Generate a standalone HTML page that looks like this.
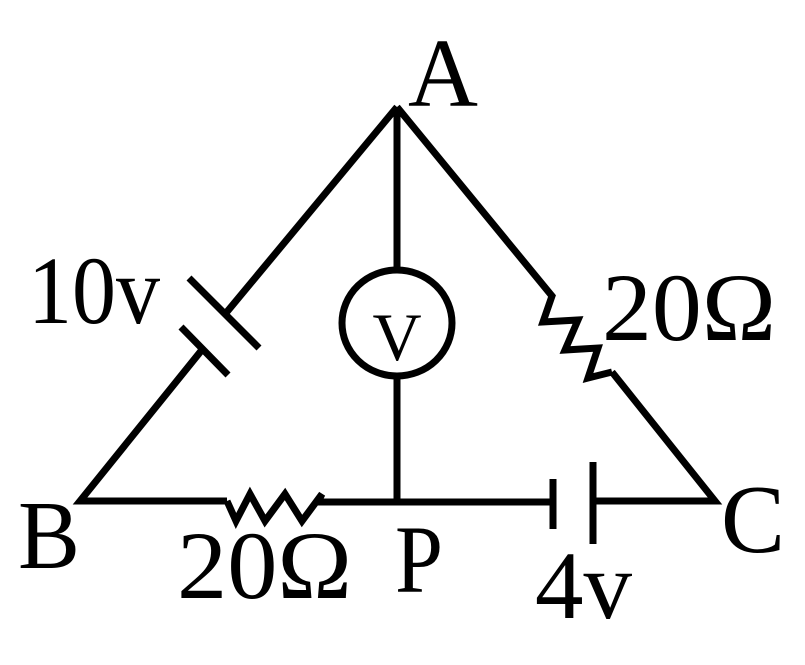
<!DOCTYPE html>
<html><head><meta charset="utf-8">
<style>html,body{margin:0;padding:0;background:#fff;}svg{display:block;}</style>
</head><body>
<svg width="805" height="665" viewBox="0 0 805 665" xmlns="http://www.w3.org/2000/svg">
<g fill="none" stroke="#000" stroke-width="7" stroke-linejoin="miter" stroke-linecap="butt">
  <polyline points="397,107 226,313"/>
  <line x1="189" y1="278" x2="259" y2="348"/>
  <line x1="181" y1="327" x2="228" y2="375"/>
  <polyline points="201,351 80,501 227,501"/>
  <polyline points="227,501 236,521 250,494 265,521 285,494 302,521 322,494 318,502 553,502"/>
  <line x1="553" y1="479" x2="553" y2="529"/>
  <line x1="593" y1="462" x2="593" y2="544"/>
  <polyline points="593,501 715,501 612,372"/>
  <polyline points="397,107 552,296 543,322 578,320 565,350 598,348 588,378 612,372"/>
  <line x1="397" y1="107" x2="397" y2="270"/>
  <line x1="397" y1="376" x2="397" y2="501"/>
  <ellipse cx="397" cy="323" rx="55" ry="53"/>
</g>
<g font-family="Liberation Serif, serif" fill="#000">
  <text x="397" y="360" font-size="68" text-anchor="middle">V</text>
  <text x="408" y="106" font-size="98" textLength="70" lengthAdjust="spacingAndGlyphs">A</text>
  <text x="28" y="323" font-size="96" textLength="132" lengthAdjust="spacingAndGlyphs">10v</text>
  <text x="602" y="340" font-size="96" textLength="174" lengthAdjust="spacingAndGlyphs">20Ω</text>
  <text x="18" y="568" font-size="98" textLength="62" lengthAdjust="spacingAndGlyphs">B</text>
  <text x="177" y="598" font-size="96" textLength="175" lengthAdjust="spacingAndGlyphs">20Ω</text>
  <text x="395" y="592" font-size="96" textLength="48" lengthAdjust="spacingAndGlyphs">P</text>
  <text x="721" y="552" font-size="98" textLength="64" lengthAdjust="spacingAndGlyphs">C</text>
  <text x="535" y="618" font-size="96" textLength="97" lengthAdjust="spacingAndGlyphs">4v</text>
</g>
</svg>
</body></html>
